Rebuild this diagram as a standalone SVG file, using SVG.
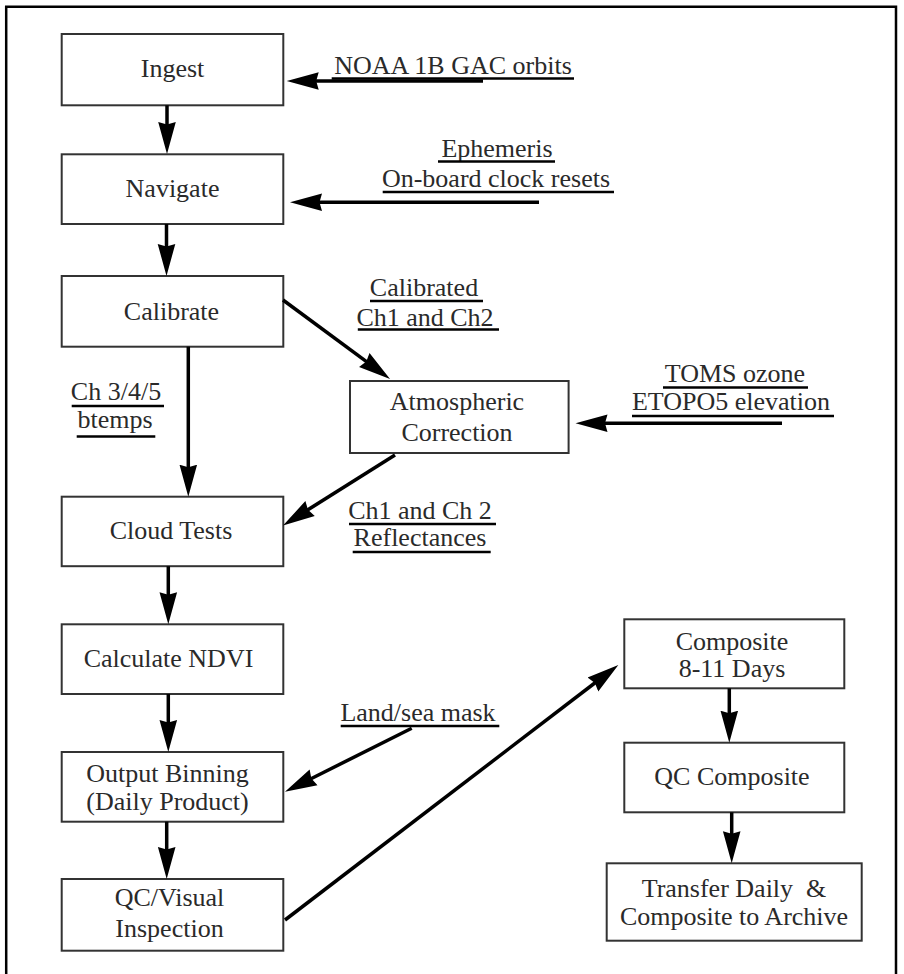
<svg xmlns="http://www.w3.org/2000/svg" width="904" height="974" viewBox="0 0 904 974">
  <defs>
    <marker id="ah" markerUnits="userSpaceOnUse" viewBox="0 -10 34 20" refX="4" refY="0" markerWidth="34" markerHeight="20" orient="auto">
      <path d="M0,-8.8 L32,0 L0,8.8 L2.5,0 Z" fill="#000"/>
    </marker>
  </defs>
  <style>
    .box { fill: #fff; stroke: #333; stroke-width: 2; }
    .t { font-family: "Liberation Serif", "Times New Roman", serif; font-size: 26px; fill: #2a2a2a; text-anchor: middle; }
    .ul { stroke: #000; stroke-width: 2.5; }
    .c { stroke: #000; stroke-width: 3.5; fill: none; marker-end: url(#ah); }
    .frame { stroke: #000; stroke-width: 2.5; fill: none; }
  </style>
  <rect width="904" height="974" fill="#fff"/>
  <path class="frame" d="M6.2,974 L6.2,6.7 L896,6.7 L896,974"/>

  <g id="ingest"><rect class="box" x="61.7" y="34" width="221.6" height="71.3"/><text class="t" x="172.5" y="77">Ingest</text></g>
  <g id="navigate"><rect class="box" x="61.7" y="154.3" width="221.6" height="69.7"/><text class="t" x="172.5" y="197">Navigate</text></g>
  <g id="calibrate"><rect class="box" x="61.7" y="276" width="221.6" height="70.7"/><text class="t" x="171.5" y="319.5">Calibrate</text></g>
  <g id="atmospheric"><rect class="box" x="350" y="381" width="218.6" height="72"/><text class="t" x="457" y="410">Atmospheric</text><text class="t" x="457" y="441">Correction</text></g>
  <g id="cloudtests"><rect class="box" x="61.7" y="496.7" width="221.6" height="69.5"/><text class="t" x="171" y="538.5">Cloud Tests</text></g>
  <g id="ndvi"><rect class="box" x="61.7" y="624.3" width="221.6" height="69.7"/><text class="t" x="168.5" y="667">Calculate NDVI</text></g>
  <g id="binning"><rect class="box" x="61.7" y="752" width="221.6" height="69.7"/><text class="t" x="167.5" y="781.5">Output Binning</text><text class="t" x="167.5" y="810">(Daily Product)</text></g>
  <g id="qcvisual"><rect class="box" x="61.7" y="879" width="221.6" height="71.7"/><text class="t" x="169.5" y="906">QC/Visual</text><text class="t" x="169.5" y="937">Inspection</text></g>
  <g id="composite"><rect class="box" x="624.3" y="619.3" width="220" height="69"/><text class="t" x="732" y="649.5">Composite</text><text class="t" x="732" y="677">8-11 Days</text></g>
  <g id="qccomposite"><rect class="box" x="624.3" y="742.7" width="220" height="69.6"/><text class="t" x="732" y="785">QC Composite</text></g>
  <g id="transfer"><rect class="box" x="606.7" y="863.3" width="255" height="77.4"/><text class="t" x="734" y="897" xml:space="preserve">Transfer Daily  &amp;</text><text class="t" x="734" y="925">Composite to Archive</text></g>

  <g id="labels">
    <text class="t" x="453" y="73.5">NOAA 1B GAC orbits</text><line class="ul" x1="331.7" y1="78.5" x2="574" y2="78.5"/>
    <text class="t" x="497" y="157">Ephemeris</text><line class="ul" x1="438" y1="161.5" x2="555" y2="161.5"/>
    <text class="t" x="496" y="187">On-board clock resets</text><line class="ul" x1="382.7" y1="192" x2="614" y2="192"/>
    <text class="t" x="424" y="296">Calibrated</text><line class="ul" x1="370" y1="301" x2="483" y2="301"/>
    <text class="t" x="425" y="326">Ch1 and Ch2</text><line class="ul" x1="357.8" y1="329.5" x2="499" y2="329.5"/>
    <text class="t" x="116" y="400">Ch 3/4/5</text><line class="ul" x1="71.7" y1="406" x2="164" y2="406"/>
    <text class="t" x="115" y="428">btemps</text><line class="ul" x1="76.7" y1="436.5" x2="155.3" y2="436.5"/>
    <text class="t" x="735" y="382">TOMS ozone</text><line class="ul" x1="663" y1="387.5" x2="808" y2="387.5"/>
    <text class="t" x="731" y="410">ETOPO5 elevation</text><line class="ul" x1="632" y1="416" x2="834" y2="416"/>
    <text class="t" x="420" y="518.5">Ch1 and Ch 2</text><line class="ul" x1="349" y1="524" x2="496" y2="524"/>
    <text class="t" x="420" y="546">Reflectances</text><line class="ul" x1="352.7" y1="552" x2="490.7" y2="552"/>
    <text class="t" x="418" y="721">Land/sea mask</text><line class="ul" x1="340.7" y1="726" x2="499.3" y2="726"/>
  </g>

  <g id="connectors">
    <line class="c" x1="167" y1="105.3" x2="167" y2="126"/>
    <line class="c" x1="166.5" y1="224" x2="166.5" y2="248"/>
    <line class="c" x1="188.3" y1="346.7" x2="188.3" y2="468.7"/>
    <line class="c" x1="168.3" y1="566.2" x2="168.3" y2="596.3"/>
    <line class="c" x1="168.3" y1="694" x2="168.3" y2="724"/>
    <line class="c" x1="166.7" y1="821.7" x2="166.7" y2="851"/>
    <line class="c" x1="729.3" y1="688.3" x2="729.3" y2="714.7"/>
    <line class="c" x1="731.7" y1="812.3" x2="731.7" y2="835.3"/>
    <line class="c" x1="483" y1="81" x2="314.7" y2="81"/>
    <line class="c" x1="539" y1="202.3" x2="318" y2="202.3"/>
    <line class="c" x1="782" y1="423.3" x2="603.5" y2="423.3"/>
    <line class="c" x1="283" y1="300" x2="367.5" y2="362.4"/>
    <line class="c" x1="395" y1="455" x2="306.7" y2="510.6"/>
    <line class="c" x1="411.7" y1="728.3" x2="310" y2="779.2"/>
    <line class="c" x1="285" y1="920" x2="596.1" y2="682"/>
  </g>
</svg>
